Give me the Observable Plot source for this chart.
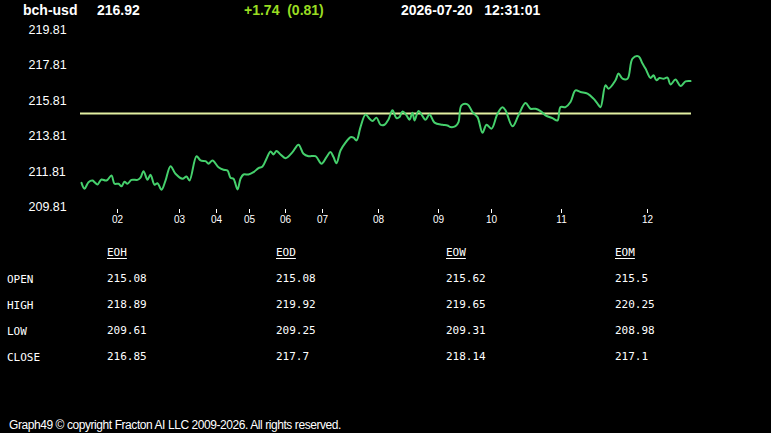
<!DOCTYPE html>
<html>
<head>
<meta charset="utf-8">
<script src="https://cdn.jsdelivr.net/npm/d3@7"></script>
<script src="https://cdn.jsdelivr.net/npm/@observablehq/plot@0.6"></script>
<style>
  html, body { margin: 0; padding: 0; background: #000; }
  body { width: 771px; height: 433px; position: relative; overflow: hidden; font-family: "Liberation Sans", Arial, sans-serif; color: #fff; }
  .abs { position: absolute; white-space: nowrap; }
  .hdr { font-weight: bold; font-size: 14px; line-height: 20px; top: 0px; }
  #chart { position: absolute; left: 0; top: 0; }
  .tbl { font-family: "DejaVu Sans Mono", monospace; font-size: 11px; line-height: 14px; }
  .u { text-decoration: underline; text-underline-offset: 2px; }
  #foot { font-size: 12px; line-height: 14px; left: 9px; top: 418px; }
</style>
</head>
<body>
<div id="chart"></div>
<div id="header"></div>
<div id="table"></div>
<div id="foot" class="abs"></div>
<script>
// ---- data ----
const symbol = "bch-usd";
const lastPrice = "216.92";
const change = "+1.74  (0.81)";
const stamp = "2026-07-20   12:31:01";

const times = [1,4,8,12,14,17,21,25,27,31,34,38,41,44,47,51,57,60,63,67,70,74,77,81,85,90,95,102,106,109,116,120,125,128,132,138,143,147,150,153,157,160,163,168,173,178,182,186,190,193,196,200,205,212,218,223,228,235,241,246,250,253,256,260,265,270,273,276,280,285,289,292,296,300,304,308,312,316,319,322,326,329,332,334,338,342,345,349,354,362,367,370,375,378,381,387,392,397,402,406,411,417,422,425,432,438,445,450,455,460,465,472,477,480,485,490,495,500,507,513,517,520,525,528,535,538,542,547,552,558,562,565,570,573,576,579,583,587,590,595,600,605,610];
const prices = [211.18,210.85,211.22,211.31,211.22,211.09,211.37,211.31,211.35,211.60,211.13,211.13,210.99,211.24,211.13,211.35,211.35,211.47,211.84,211.35,211.64,211.07,211.16,210.79,211.31,212.12,211.69,211.41,211.54,211.31,212.68,212.44,212.40,212.26,212.44,212.06,211.92,211.88,211.47,211.41,210.81,211.41,211.65,211.65,211.78,212.01,212.10,212.54,212.95,212.78,212.97,212.78,212.57,212.91,213.33,212.82,212.68,212.68,212.26,212.63,212.91,212.63,212.29,213.00,213.44,213.75,213.72,213.57,214.32,215.02,214.79,214.66,214.85,214.45,214.45,214.75,215.26,214.82,214.88,215.20,214.98,214.73,215.13,214.69,215.22,214.94,214.73,215.03,214.57,214.45,214.41,214.32,214.37,214.60,215.54,215.60,215.16,214.88,214.00,214.45,214.23,215.07,215.43,215.26,214.36,214.98,215.67,215.35,215.35,215.22,214.98,214.82,214.69,215.44,215.44,215.73,216.38,216.29,216.20,215.92,215.64,215.44,216.67,216.48,216.95,217.33,217.04,217.04,218.17,218.30,217.89,217.61,217.08,217.23,216.95,217.08,217.04,217.10,216.71,216.99,216.63,216.89,216.91];

const xTickPos = [37,99,136,169,205,242,298,358,411,481,567];
const xTickLabels = ["02","03","04","05","06","07","08","09","10","11","12"];
const yTicks = [209.81,211.81,213.81,215.81,217.81,219.81];

const rowLabels = ["OPEN","HIGH","LOW","CLOSE"];
const colLabels = ["EOH","EOD","EOW","EOM"];
const eoh = ["215.08","218.89","209.61","216.85"];
const eod = ["215.08","219.92","209.25","217.7"];
const eow = ["215.62","219.65","209.31","218.14"];
const eom = ["215.5","220.25","208.98","217.1"];
const openLevel = 215.08;
const footerText = "Graph49 \u00A9 copyright Fracton AI LLC 2009-2026. All rights reserved.";

// ---- chart ----
const series = times.map((t, i) => ({t, p: prices[i]}));
const labelMap = new Map(xTickPos.map((p, i) => [p, xTickLabels[i]]));

const chart = Plot.plot({
  width: 771,
  height: 235,
  marginLeft: 80,
  marginRight: 80,
  marginTop: 29,
  marginBottom: 26,
  insetBottom: 2.3,
  x: {domain: [0, 611], label: null},
  y: {domain: [209.81, 219.81], label: null},
  style: {background: "#000", color: "#fff", fontFamily: "'Liberation Sans', Arial, sans-serif"},
  marks: [
    Plot.axisY(yTicks, {label: null, tickSize: 0, tickPadding: 52, textAnchor: "start", fontSize: 12.5, fill: "#fff", tickFormat: d => d.toFixed(2)}),
    Plot.axisX(xTickPos, {label: null, tickSize: 4, tickPadding: 2, fontSize: 10, stroke: "#fff", fill: "#fff", tickFormat: d => labelMap.get(d)}),
    Plot.ruleY([openLevel], {stroke: "#e2efa2", strokeWidth: 2}),
    Plot.line(series, {x: "t", y: "p", stroke: "#45d06c", strokeWidth: 2, curve: "catmull-rom"})
  ]
});
document.getElementById("chart").appendChild(chart);

// ---- header ----
const header = document.getElementById("header");
function addAbs(parent, text, cls, left, top, color) {
  const d = document.createElement("div");
  d.className = "abs " + cls;
  d.textContent = text;
  d.style.left = left + "px";
  if (top !== null) d.style.top = top + "px";
  if (color) d.style.color = color;
  d.style.whiteSpace = "pre";
  parent.appendChild(d);
  return d;
}
addAbs(header, symbol, "hdr", 23, 0);
addAbs(header, lastPrice, "hdr", 97, 0);
addAbs(header, change, "hdr", 244, 0, "#99dd22");
addAbs(header, stamp, "hdr", 401, 0);

// ---- table ----
const table = document.getElementById("table");
const colX = [107, 276, 446, 615];
const rowY = [272, 298, 324, 350];
const cols = [eoh, eod, eow, eom];
colLabels.forEach((c, i) => addAbs(table, c, "tbl u", colX[i], 246));
rowLabels.forEach((r, j) => {
  addAbs(table, r, "tbl", 7, rowY[j] + 1);
  cols.forEach((col, i) => addAbs(table, col[j], "tbl", colX[i], rowY[j]));
});

// ---- footer ----
const foot = document.getElementById("foot");
foot.textContent = footerText;
const w = foot.getBoundingClientRect().width;
const target = 332;
foot.style.letterSpacing = ((target - w) / footerText.length).toFixed(3) + "px";
</script>
</body>
</html>
